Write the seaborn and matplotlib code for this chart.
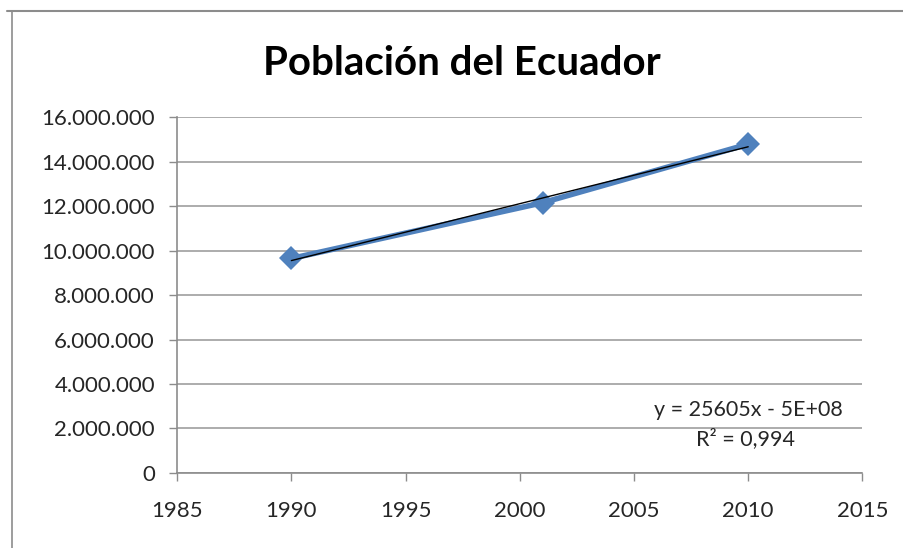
import numpy as np
import pandas as pd
import seaborn as sn
import matplotlib.pyplot as plt
from matplotlib.lines import Line2D
from matplotlib.ticker import FuncFormatter

years = [1990, 2001, 2010]
poblacion = [9648189, 12156608, 14790000]
x_ticks = [1985, 1990, 1995, 2000, 2005, 2010, 2015]
y_ticks = list(range(0, 16000001, 2000000))
titulo = 'Población del Ecuador'
ecuacion = 'y = 25605x - 5E+08'
r2_txt = 'R² = 0,994'

data = pd.DataFrame({'anio': years, 'poblacion': poblacion})

sn.set_style('white')
plt.rcParams['font.family'] = ['Lato', 'DejaVu Sans']

fig = plt.figure(figsize=(9.04, 5.48), dpi=100)
ax = fig.add_axes([0.196, 0.137, 0.758, 0.649])

sn.lineplot(data=data, x='anio', y='poblacion', ax=ax, color='#4F81BD',
            linewidth=4, marker='D', markersize=12, markeredgewidth=0, zorder=3)
sn.regplot(data=data, x='anio', y='poblacion', ax=ax, scatter=False, ci=None,
           truncate=True, line_kws={'color': 'black', 'linewidth': 1, 'zorder': 4})

ax.set_xlim(1985, 2015)
ax.set_ylim(0, 16000000)
ax.set_xticks(x_ticks)
ax.set_yticks(y_ticks)
ax.yaxis.set_major_formatter(FuncFormatter(lambda v, p: f'{int(v):,}'.replace(',', '.')))
ax.set_xlabel('')
ax.set_ylabel('')

ax.grid(axis='y', color='#a6a6a6', linewidth=1.3)
ax.set_axisbelow(True)
for s in ['top', 'right']:
    ax.spines[s].set_visible(False)
for s in ['left', 'bottom']:
    ax.spines[s].set_color('#8c8c8c')
    ax.spines[s].set_linewidth(1.2)

ax.tick_params(axis='both', which='major', direction='out', length=6, width=1,
               color='#8c8c8c', labelsize=16, labelcolor='#262626', left=True, bottom=True)
ax.tick_params(axis='y', pad=10)
ax.tick_params(axis='x', pad=14)

fig.suptitle(titulo, x=0.511, y=0.918, fontsize=29, fontweight='bold', color='black')

ax.text(0.834, 0.177, ecuacion, transform=ax.transAxes, ha='center', va='center',
        fontsize=15.5, color='#262626')
ax.text(0.829, 0.096, r2_txt, transform=ax.transAxes, ha='center', va='center',
        fontsize=15.5, color='#262626')

# borde del area del grafico
fig.add_artist(Line2D([0.008, 1.0], [0.98, 0.98], color='#8c8c8c', linewidth=1.5))
fig.add_artist(Line2D([0.0135, 0.0135], [0.0, 0.98], color='#8c8c8c', linewidth=1.2))

plt.savefig('out.png', dpi=100)
